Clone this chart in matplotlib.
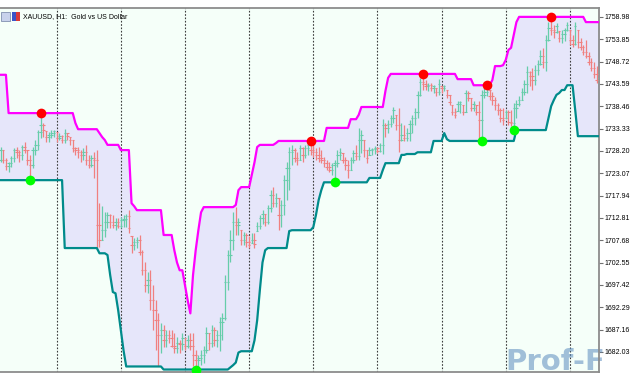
import numpy as np
import pandas as pd
import matplotlib
matplotlib.use('Agg')
import matplotlib.pyplot as plt
from matplotlib.patches import Rectangle

# XAUUSD H1 bars (first 12 and last 12 sit outside the view,
# they only feed the channel)
first_bar = -12
first_open = 1742.0

high = [
    1744.0, 1745.0, 1745.7, 1736.5, 1735.3, 1734.2, 1733.5, 1731.9, 1730.7, 1730.2, 1728.9, 1728.4,
    1729.1, 1728.4, 1726.6, 1725.6, 1727.0, 1728.9, 1729.1, 1728.4, 1729.6, 1730.2, 1728.4, 1727.3,
    1729.1, 1730.7, 1733.0, 1736.9, 1734.6, 1732.8, 1732.5, 1733.0, 1733.0, 1732.5, 1732.3, 1731.9,
    1733.2, 1732.3, 1731.4, 1730.7, 1729.1, 1729.1, 1728.4, 1728.9, 1729.6, 1727.3, 1727.3, 1727.9,
    1728.4, 1716.2, 1715.5, 1714.1, 1714.1, 1713.7, 1713.5, 1712.8, 1712.8, 1713.0, 1713.5, 1713.7,
    1714.6, 1708.6, 1708.2, 1708.4, 1708.9, 1705.4, 1702.6, 1700.3, 1700.8, 1697.4, 1693.9, 1690.9,
    1688.6, 1688.2, 1687.0, 1687.0, 1687.0, 1686.3, 1685.4, 1684.7, 1686.3, 1685.2, 1685.9, 1686.3,
    1686.3, 1682.4, 1681.3, 1682.4, 1683.5, 1687.7, 1686.3, 1688.2, 1687.7, 1687.0, 1690.0, 1690.9,
    1699.7, 1705.4, 1710.0, 1714.1, 1715.3, 1712.8, 1710.0, 1709.5, 1709.3, 1708.6, 1709.3, 1709.3,
    1711.8, 1713.5, 1714.6, 1713.7, 1715.8, 1719.2, 1719.9, 1718.5, 1717.4, 1716.9, 1722.7, 1725.6,
    1729.1, 1729.6, 1728.9, 1727.9, 1729.6, 1729.1, 1729.6, 1730.0, 1730.5, 1729.6, 1728.9, 1729.1,
    1728.4, 1726.8, 1726.1, 1725.6, 1725.4, 1726.1, 1728.4, 1728.9, 1727.7, 1726.8, 1726.1, 1726.8,
    1728.4, 1729.6, 1733.5, 1733.0, 1730.7, 1728.4, 1729.1, 1728.9, 1729.4, 1729.1, 1730.0, 1735.5,
    1734.6, 1735.3, 1736.5, 1738.3, 1736.5, 1738.1, 1734.6, 1734.2, 1733.5, 1735.3, 1736.5, 1738.1,
    1742.0, 1745.0, 1745.9, 1744.5, 1743.8, 1743.8, 1743.3, 1742.7, 1744.7, 1743.1, 1743.3, 1742.2,
    1741.1, 1738.7, 1738.1, 1739.7, 1739.7, 1738.7, 1742.2, 1742.0, 1740.4, 1739.7, 1738.7, 1739.7,
    1742.2, 1742.7, 1743.3, 1742.2, 1741.7, 1740.6, 1739.2, 1738.1, 1738.1, 1737.6, 1737.6, 1737.6,
    1739.2, 1739.9, 1740.8, 1742.7, 1744.5, 1747.7, 1746.6, 1747.3, 1747.9, 1749.1, 1751.4, 1751.9,
    1754.9, 1757.8, 1759.0, 1757.1, 1757.6, 1755.8, 1756.0, 1756.5, 1757.8, 1756.0, 1754.9, 1757.8,
    1756.0, 1754.2, 1752.5, 1753.7, 1750.9, 1749.6, 1748.6, 1747.7, 1746.8, 1746.3, 1747.3, 1745.7,
    1739.9, 1737.6, 1738.7, 1739.9, 1740.4, 1741.1, 1741.7, 1742.2,
]

low = [
    1739.9, 1740.4, 1735.8, 1733.0, 1731.9, 1730.7, 1729.6, 1728.4, 1727.3, 1726.1, 1725.4, 1724.9,
    1725.6, 1725.4, 1723.8, 1723.3, 1724.5, 1725.6, 1726.6, 1725.6, 1726.1, 1727.7, 1724.9, 1721.5,
    1724.3, 1727.3, 1728.4, 1731.2, 1731.4, 1730.2, 1730.2, 1731.2, 1731.4, 1730.2, 1730.7, 1730.0,
    1730.0, 1730.7, 1729.6, 1727.9, 1727.3, 1726.6, 1725.6, 1726.1, 1724.9, 1724.3, 1724.5, 1722.0,
    1705.9, 1706.1, 1707.7, 1708.4, 1710.5, 1710.5, 1710.5, 1710.0, 1710.5, 1710.5, 1710.7, 1710.7,
    1709.3, 1704.7, 1705.4, 1705.9, 1704.3, 1699.7, 1695.8, 1695.5, 1691.6, 1687.0, 1682.4, 1678.7,
    1681.9, 1683.1, 1683.1, 1684.0, 1683.1, 1681.9, 1681.7, 1681.7, 1682.4, 1682.4, 1682.9, 1682.4,
    1678.7, 1678.0, 1678.5, 1679.0, 1679.6, 1681.9, 1682.4, 1683.1, 1683.5, 1683.1, 1682.2, 1684.7,
    1689.3, 1696.2, 1702.6, 1705.4, 1708.9, 1708.9, 1706.6, 1706.6, 1706.1, 1705.9, 1707.0, 1705.9,
    1709.8, 1710.2, 1711.4, 1710.9, 1711.4, 1714.1, 1715.3, 1715.3, 1710.0, 1710.7, 1713.5, 1716.9,
    1719.2, 1724.9, 1725.6, 1724.9, 1726.1, 1725.6, 1726.6, 1727.3, 1727.3, 1726.8, 1726.1, 1725.6,
    1725.4, 1724.5, 1723.8, 1723.3, 1722.7, 1721.0, 1724.5, 1726.1, 1725.4, 1723.8, 1722.0, 1723.8,
    1725.4, 1726.1, 1726.1, 1727.7, 1726.8, 1725.4, 1727.3, 1727.3, 1727.5, 1727.7, 1727.9, 1727.5,
    1731.4, 1732.3, 1733.7, 1734.6, 1733.0, 1727.9, 1730.5, 1730.5, 1730.5, 1730.5, 1732.3, 1734.2,
    1735.8, 1740.8, 1742.2, 1742.2, 1742.0, 1742.0, 1741.5, 1740.8, 1741.1, 1741.5, 1742.0, 1740.4,
    1738.7, 1736.5, 1735.8, 1737.4, 1736.9, 1736.5, 1737.1, 1739.7, 1737.4, 1737.4, 1736.5, 1730.9,
    1730.5, 1740.4, 1740.8, 1739.9, 1738.7, 1737.6, 1736.5, 1734.8, 1734.2, 1735.8, 1734.2, 1733.9,
    1733.0, 1735.8, 1738.5, 1739.9, 1741.1, 1741.5, 1743.1, 1742.2, 1743.3, 1745.7, 1747.9, 1747.3,
    1746.6, 1753.5, 1754.9, 1754.2, 1755.3, 1753.2, 1753.0, 1753.5, 1755.8, 1752.5, 1752.1, 1752.5,
    1751.9, 1751.4, 1750.3, 1749.6, 1747.9, 1746.6, 1745.0, 1743.8, 1743.6, 1743.3, 1744.0, 1737.6,
    1731.6, 1733.0, 1734.2, 1735.3, 1735.8, 1736.5, 1737.6, 1738.1,
]

close = [
    1741.7, 1742.2, 1736.5, 1734.2, 1733.0, 1731.9, 1730.7, 1729.6, 1728.4, 1727.3, 1726.6, 1726.1,
    1728.4, 1726.1, 1724.7, 1725.4, 1726.6, 1728.4, 1727.9, 1727.3, 1729.1, 1728.4, 1726.1, 1724.9,
    1728.4, 1729.6, 1732.5, 1734.2, 1733.0, 1731.4, 1731.9, 1732.3, 1732.8, 1731.2, 1731.6, 1730.7,
    1732.3, 1731.6, 1730.7, 1728.9, 1728.4, 1727.9, 1727.3, 1727.9, 1726.1, 1724.9, 1726.6, 1726.1,
    1711.2, 1707.7, 1710.0, 1711.8, 1713.5, 1711.8, 1711.2, 1711.8, 1710.9, 1712.3, 1712.5, 1713.2,
    1710.5, 1706.6, 1707.2, 1707.7, 1704.9, 1700.8, 1697.4, 1698.5, 1693.9, 1691.6, 1689.3, 1685.9,
    1687.0, 1684.7, 1685.9, 1685.2, 1683.5, 1682.9, 1684.2, 1683.8, 1685.2, 1683.5, 1684.7, 1683.5,
    1681.3, 1680.1, 1680.6, 1681.3, 1682.4, 1686.3, 1684.0, 1687.0, 1684.7, 1685.9, 1688.9, 1689.8,
    1698.0, 1704.3, 1707.7, 1711.8, 1711.2, 1711.8, 1707.7, 1708.9, 1707.2, 1706.6, 1707.7, 1706.8,
    1710.9, 1712.8, 1713.7, 1711.8, 1715.1, 1718.1, 1716.2, 1717.4, 1713.5, 1715.8, 1721.5, 1724.3,
    1727.9, 1728.4, 1726.6, 1726.1, 1728.9, 1727.3, 1728.9, 1729.6, 1728.4, 1727.9, 1727.3, 1726.6,
    1726.1, 1725.4, 1724.5, 1723.8, 1724.9, 1725.4, 1727.3, 1727.9, 1726.1, 1724.9, 1723.8, 1726.1,
    1727.7, 1727.0, 1730.7, 1731.9, 1728.4, 1726.6, 1728.4, 1728.6, 1728.9, 1728.2, 1729.6, 1734.2,
    1733.5, 1734.4, 1735.8, 1737.6, 1734.2, 1730.7, 1731.9, 1731.2, 1732.3, 1734.4, 1735.8, 1737.1,
    1741.1, 1744.0, 1743.6, 1743.1, 1743.3, 1742.7, 1743.1, 1741.7, 1743.6, 1742.7, 1743.1, 1741.1,
    1739.4, 1737.1, 1736.5, 1739.0, 1739.4, 1737.1, 1741.5, 1740.4, 1738.1, 1739.0, 1737.1, 1735.3,
    1741.1, 1741.7, 1742.7, 1740.8, 1739.9, 1738.7, 1737.6, 1735.8, 1735.3, 1737.1, 1734.8, 1734.6,
    1738.1, 1739.0, 1739.9, 1741.7, 1743.6, 1746.3, 1745.4, 1744.5, 1746.8, 1748.2, 1750.0, 1748.6,
    1753.7, 1756.5, 1756.0, 1755.5, 1756.9, 1754.2, 1755.1, 1756.0, 1757.1, 1753.7, 1752.8, 1756.9,
    1753.2, 1752.1, 1750.9, 1750.0, 1748.6, 1747.3, 1745.9, 1744.5, 1745.0, 1744.5, 1745.7, 1738.7,
    1735.3, 1735.8, 1737.1, 1737.6, 1738.7, 1739.9, 1740.4, 1741.1,
]

# swing markers (bar numbers)
swing_highs = [15, 116, 158, 182, 206]
swing_lows = [11, 73, 125, 180, 192]

price_ticks = [1758.98, 1753.85, 1748.72, 1743.59, 1738.46, 1733.33, 1728.20, 1723.07,
               1717.94, 1712.81, 1707.68, 1702.55, 1697.42, 1692.29, 1687.16, 1682.03]

title = 'XAUUSD, H1:  Gold vs US Dollar'
channel_bars = 25      # centred window of the channel
day_start = 21         # first day separator (bar number)
bars_per_day = 24

bars = pd.DataFrame({'high': high, 'low': low, 'close': close},
                    index=np.arange(first_bar, first_bar + len(high)))
bars['open'] = bars['close'].shift(1).fillna(first_open)
bars['open'] = bars['open'].clip(bars['low'], bars['high'])
bars['upper'] = bars['high'].rolling(channel_bars, center=True, min_periods=1).max()
bars['lower'] = bars['low'].rolling(channel_bars, center=True, min_periods=1).min()

x_lo, x_hi = -0.22, 223.9
shown = bars.loc[-1:225]
x = shown.index.values

fig = plt.figure(figsize=(6.3, 3.8), dpi=100)
fig.patch.set_facecolor('white')
ax = fig.add_axes([0, 8 / 380, 599 / 630, 364 / 380])
ax.set_facecolor('#F5FFF9')

# channel fill
ax.fill_between(x, shown['lower'], shown['upper'], color='#E6E6FA', lw=0, zorder=1)

# day separators
for d in range(day_start, int(x_hi) + 1, bars_per_day):
    ax.axvline(d, color='#3C3C3C', lw=0.8, ls=(0, (1.5, 1.5)), zorder=2)

# candles
bull = shown['close'] >= shown['open']
cols = np.where(bull, '#66CDAA', '#F08080')
ax.vlines(x, shown['low'], shown['high'], colors=cols, lw=0.9, zorder=3)
ax.hlines(shown['open'], x - 0.45, x + 0.45, colors=cols, lw=0.8, zorder=3)
ax.hlines(shown['close'], x - 0.45, x + 0.45, colors=cols, lw=0.8, zorder=3)

# channel lines
ax.plot(x, shown['upper'], color='#FF00FF', lw=1.6, zorder=4)
ax.plot(x, shown['lower'], color='#008B8B', lw=1.6, zorder=4)

# swing dots
ax.plot(swing_highs, bars.loc[swing_highs, 'high'], 'o', color='#FF0000', ms=7, mew=0, zorder=5)
ax.plot(swing_lows, bars.loc[swing_lows, 'low'], 'o', color='#00FF00', ms=7, mew=0, zorder=5)

ax.set_xlim(x_lo, x_hi)
ax.set_ylim(1677.43, 1761.04)
ax.set_xticks([])
ax.yaxis.tick_right()
ax.set_yticks(price_ticks)
ax.set_yticklabels(['%.2f' % t for t in price_ticks], fontsize=5, family='Liberation Sans')
ax.tick_params(axis='y', length=3, width=0.8, color='#707070', pad=1)
ax.spines['left'].set_visible(False)
for s in ['top', 'bottom', 'right']:
    ax.spines[s].set_color('#8C8C8C')
    ax.spines[s].set_linewidth(1.3)

# header with the two little icons
fig.add_artist(Rectangle((1 / 630, 1 - 21 / 380), 9 / 630, 9 / 380, facecolor='#C8D2EC',
                         edgecolor='#8090B0', lw=0.6))
fig.add_artist(Rectangle((12 / 630, 1 - 21 / 380), 4 / 630, 9 / 380, facecolor='#3A55C8', lw=0))
fig.add_artist(Rectangle((16 / 630, 1 - 21 / 380), 4 / 630, 9 / 380, facecolor='#D83A3A', lw=0))
fig.text(23 / 630, 1 - 17 / 380, title, fontsize=5, family='Liberation Sans', va='center')

# watermark, sits under the price scale
ax.text(505 / 599, -4 / 364, 'Prof-F', transform=ax.transAxes, fontsize=21, fontweight='bold',
        color='#5A8CBE', alpha=0.55, va='bottom', ha='left', clip_on=False, zorder=2.4)

fig.savefig('out.png', dpi=100)
